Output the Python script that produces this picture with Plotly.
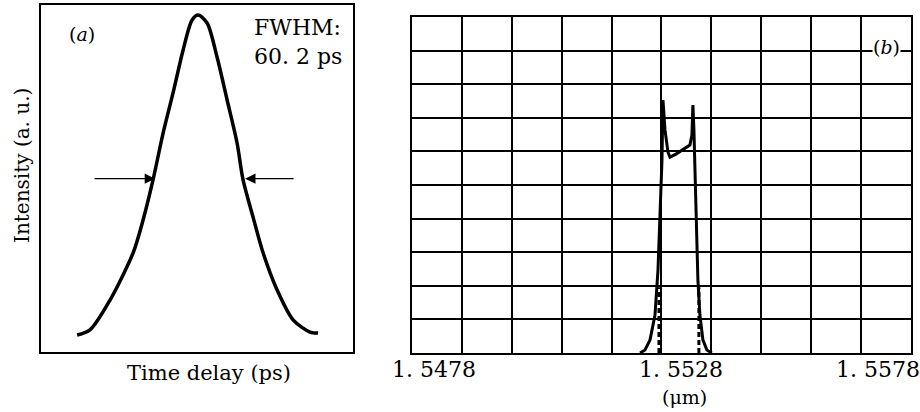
import plotly.graph_objects as go

# ---------------- Panel (a): autocorrelation trace ----------------
delay_ps = [-83.4, -74.6, -60.9, -45.1, -38.3, -31.5, -24.6, -17.8, -10.9, -4.8,
            -0.7, 5.5, 12.3, 19.2, 26.0, 30.1, 36.9, 43.8, 53.4, 64.3, 75.9, 81.4]
intensity = [0.003, 0.019, 0.112, 0.259, 0.361, 0.486, 0.632, 0.757, 0.891, 0.984,
             1.0, 0.975, 0.869, 0.735, 0.601, 0.486, 0.371, 0.259, 0.143, 0.05, 0.012, 0.009]
half_level = 0.49
arrow_left = [-72.5, -30.1]    # tail, head
arrow_right = [65.7, 31.5]     # tail, head
fwhm_text = "FWHM:<br>60. 2 ps"

# ---------------- Panel (b): optical spectrum ----------------
wavelength_um = [1.55237, 1.55247, 1.55257, 1.55267, 1.55273, 1.55277, 1.55281, 1.55283,
                 1.55287, 1.55293, 1.55297, 1.55309, 1.55325, 1.55337, 1.55341, 1.55343,
                 1.55345, 1.55349, 1.55353, 1.55357, 1.55363, 1.55371, 1.55381]
spectrum = [0.0, 0.09, 0.39, 1.13, 2.47, 3.96, 5.74, 7.53,
            6.64, 5.98, 5.83, 5.92, 6.07, 6.19, 6.49, 7.38,
            6.64, 3.96, 2.17, 1.13, 0.39, 0.09, 0.0]
dashed_x = [1.55275, 1.55355]
dashed_top = 1.96
tick_vals = [1.5478, 1.5528, 1.5578]
tick_text = ["1. 5478", "1. 5528", "1. 5578"]
tick_shift = [22, 20, -33]

SERIF = "DejaVu Serif"

fig = go.Figure()

fig.add_trace(go.Scatter(x=delay_ps, y=intensity, mode="lines",
                         line=dict(color="black", width=3.5, shape="spline", smoothing=0.8),
                         xaxis="x", yaxis="y", showlegend=False, hoverinfo="skip"))

fig.add_trace(go.Scatter(x=wavelength_um, y=spectrum, mode="lines",
                         line=dict(color="black", width=3),
                         xaxis="x2", yaxis="y2", showlegend=False, hoverinfo="skip"))

for xd in dashed_x:
    fig.add_trace(go.Scatter(x=[xd, xd], y=[0, dashed_top], mode="lines",
                             line=dict(color="black", width=3, dash="5px,3px"),
                             xaxis="x2", yaxis="y2", showlegend=False, hoverinfo="skip"))

def txt(x, y, text, size, **kw):
    d = dict(x=x, y=y, xref="paper", yref="paper", showarrow=False, text=text,
             xanchor="center", yanchor="middle",
             font=dict(family=SERIF, size=size, color="black"))
    d.update(kw)
    return d

annotations = [
    dict(x=arrow_left[1], y=half_level, ax=arrow_left[0], ay=half_level,
         xref="x", yref="y", axref="x", ayref="y", showarrow=True, text="",
         arrowhead=2, arrowsize=1.6, arrowwidth=1.3, arrowcolor="black"),
    dict(x=arrow_right[1], y=half_level, ax=arrow_right[0], ay=half_level,
         xref="x", yref="y", axref="x", ayref="y", showarrow=True, text="",
         arrowhead=2, arrowsize=1.6, arrowwidth=1.3, arrowcolor="black"),
    txt(0.0891, 0.9175, "(<i>a</i>)", 19),
    txt(0.2739, 0.968, fwhm_text, 22, xanchor="left", yanchor="top", align="left"),
    txt(0.2272, 0.0947, "Time delay (ps)", 21),
    txt(0.0239, 0.5995, "Intensity (a. u.)", 20, textangle=-90),
    txt(0.964, 0.886, "(<i>b</i>)", 19, bgcolor="white", borderpad=0),
    txt(0.7435, 0.0364, "(μm)", 19),
]
for v, t, s in zip(tick_vals, tick_text, tick_shift):
    annotations.append(dict(x=v, y=0.102, xref="x2", yref="paper", xshift=s,
                            showarrow=False, xanchor="center", yanchor="middle", text=t,
                            font=dict(family=SERIF, size=22, color="black")))

fig.update_layout(
    width=920, height=412,
    margin=dict(l=0, r=0, t=0, b=0),
    paper_bgcolor="white", plot_bgcolor="white",
    xaxis=dict(domain=[0.0446, 0.3837], range=[-108.1, 105.3], showgrid=False,
               zeroline=False, showticklabels=False, ticks="",
               showline=True, mirror=True, linecolor="black", linewidth=2),
    yaxis=dict(domain=[0.1456, 0.9879], range=[-0.05, 1.031], showgrid=False,
               zeroline=False, showticklabels=False, ticks="",
               showline=True, mirror=True, linecolor="black", linewidth=2),
    xaxis2=dict(domain=[0.4478, 0.9902], range=[1.5478, 1.5578], tick0=1.5478, dtick=0.001,
                showgrid=True, gridcolor="black", gridwidth=2, zeroline=False,
                showticklabels=False, ticks="",
                showline=True, mirror=True, linecolor="black", linewidth=2, anchor="y2"),
    yaxis2=dict(domain=[0.1432, 0.9587], range=[0, 10], tick0=0, dtick=1,
                showgrid=True, gridcolor="black", gridwidth=2, zeroline=False,
                showticklabels=False, ticks="",
                showline=True, mirror=True, linecolor="black", linewidth=2, anchor="x2"),
    annotations=annotations,
)

fig.write_html("out.html", config={"displayModeBar": False},
               post_script="document.body.style.margin='0px';")
